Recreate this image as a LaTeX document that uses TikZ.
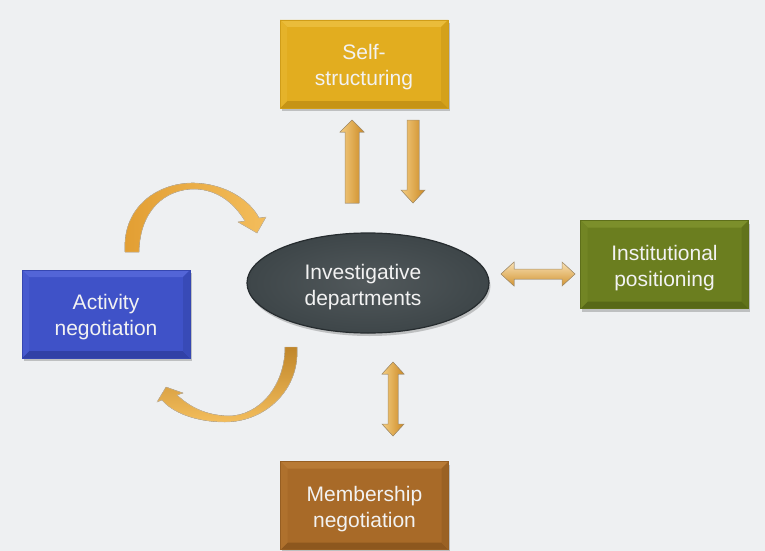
\documentclass[tikz,border=0pt]{standalone}
\usepackage{fontspec}
\setmainfont{Liberation Sans}
\usetikzlibrary{shadows,calc,shapes.geometric}
\definecolor{bg}{HTML}{EEF0F2}
\definecolor{goldM}{HTML}{E2AD1F}\definecolor{goldL}{HTML}{F0C64C}\definecolor{goldD}{HTML}{B4840E}
\definecolor{blueM}{HTML}{3F52C8}\definecolor{blueL}{HTML}{6072E2}\definecolor{blueD}{HTML}{28368F}
\definecolor{greenM}{HTML}{6B7E1F}\definecolor{greenL}{HTML}{879B33}\definecolor{greenD}{HTML}{4A5912}
\definecolor{brownM}{HTML}{A86A28}\definecolor{brownL}{HTML}{C3853D}\definecolor{brownD}{HTML}{7A4B18}
\definecolor{ellM}{HTML}{3E4649}\definecolor{ellD}{HTML}{262C2F}
\definecolor{txt}{HTML}{F2F2F2}
\definecolor{arrL}{HTML}{F4CD82}\definecolor{arrD}{HTML}{CC8A24}\definecolor{arrE}{HTML}{A8916C}
\definecolor{curA}{HTML}{E29E32}\definecolor{curB}{HTML}{F3BD5C}
\tikzset{
  box/.style n args={3}{rectangle, minimum width=168pt, minimum height=88pt, inner sep=0pt,
    fill=#1, draw=#1!60!#3, line width=0.6pt,
    drop shadow={shadow xshift=1.5pt, shadow yshift=-3pt, opacity=0.2, fill=black},
    path picture={
      \fill[#1!40!#2] (path picture bounding box.north west) -- (path picture bounding box.north east)
        -- ([xshift=-7pt,yshift=-7pt]path picture bounding box.north east)
        -- ([xshift=7pt,yshift=-7pt]path picture bounding box.north west) -- cycle;
      \fill[#1!40!#3] (path picture bounding box.south west) -- (path picture bounding box.south east)
        -- ([xshift=-7pt,yshift=7pt]path picture bounding box.south east)
        -- ([xshift=7pt,yshift=7pt]path picture bounding box.south west) -- cycle;
      \fill[#1!75!#2] (path picture bounding box.north west) -- (path picture bounding box.south west)
        -- ([xshift=7pt,yshift=7pt]path picture bounding box.south west)
        -- ([xshift=7pt,yshift=-7pt]path picture bounding box.north west) -- cycle;
      \fill[#1!70!#3] (path picture bounding box.north east) -- (path picture bounding box.south east)
        -- ([xshift=-7pt,yshift=7pt]path picture bounding box.south east)
        -- ([xshift=-7pt,yshift=-7pt]path picture bounding box.north east) -- cycle;
    }},
  lbl/.style={text=txt, align=center, inner sep=0pt, font=\fontsize{21}{26}\selectfont},
  hub/.style={ellipse, minimum width=242pt, minimum height=100pt, inner sep=0pt,
    inner color=ellM!90!white, outer color=ellM, draw=ellD, line width=1.2pt,
    drop shadow={shadow xshift=1.5pt, shadow yshift=-3pt, opacity=0.2, fill=black}},
  varrow/.style={left color=arrL, right color=arrD, draw=arrE, line width=0.5pt, line join=miter},
  harrow/.style={top color=arrL!60!white, bottom color=arrD!85!arrL, draw=arrE, line width=0.5pt},
  curvearrow/.style={left color=curA, right color=curB, draw=arrE!60, line width=0.4pt},
  curvearrowb/.style={top color=curA!85!black, bottom color=curB, draw=arrE!60, line width=0.4pt},
}
\begin{document}
\begin{tikzpicture}[x=1pt,y=-1pt]
\fill[bg] (0,0) rectangle (765,551);
\useasboundingbox (0,0) rectangle (765,551);

\node[box={goldM}{goldL}{goldD}] (self) at (364,64) {};
\node[box={blueM}{blueL}{blueD}] (act) at (106,314) {};
\node[box={greenM}{greenL}{greenD}] (inst) at (664.5,264.5) {};
\node[box={brownM}{brownL}{brownD}] (memb) at (364.5,505.5) {};
\node[hub] (dept) at (368,283) {};

\node[lbl] (selfT) at ([yshift=-3.5pt]self.center) {Self-\\structuring};
\node[lbl] (actT) at ([yshift=-3.5pt]act.center) {Activity\\negotiation};
\node[lbl] (instT) at ([yshift=-3.5pt]inst.center) {Institutional\\positioning};
\node[lbl] (membT) at ([yshift=-3.5pt]memb.center) {Membership\\negotiation};
\node[lbl] (deptT) at ([xshift=-5pt,yshift=-4pt]dept.center) {Investigative\\departments};

% up arrow (dept -> self)
\coordinate (upTail) at (352,203);
\coordinate (upTip) at (352,120);
\filldraw[varrow] ($(upTail)+(-7,0)$) -- ++(0,-71) -- ++(-5,0) -- (upTip) -- ++(12,12) -- ++(-5,0) -- ++(0,71) -- cycle;

% down arrow (self -> dept)
\coordinate (dnTail) at (413,120);
\coordinate (dnTip) at (413,203);
\filldraw[varrow] ($(dnTail)+(-6,0)$) -- ++(0,70) -- ++(-6,0) -- (dnTip) -- ++(12,-13) -- ++(-6,0) -- ++(0,-70) -- cycle;

% horizontal double arrow (dept <-> inst)
\coordinate (hL) at (501,274);
\coordinate (hR) at (575,274);
\filldraw[harrow] (hL) -- ++(13,-12) -- ++(0,7) -- ++(48,0) -- ++(0,-7) -- (hR) -- ++(-13,12) -- ++(0,-7) -- ++(-48,0) -- ++(0,7) -- cycle;

% vertical double arrow (dept <-> memb)
\coordinate (vT) at (393,362);
\coordinate (vB) at (393,436);
\filldraw[varrow] (vT) -- ++(11,12) -- ++(-6,0) -- ++(0,50) -- ++(6,0) -- (vB) -- ++(-11,-12) -- ++(6,0) -- ++(0,-50) -- ++(-6,0) -- cycle;

% curved arrow top (act -> dept)
\coordinate (c1Tip) at (257,233);
\filldraw[curvearrow] (125,252) .. controls (122,205) and (160,182) .. (195,183)
  .. controls (225,184) and (250,200) .. (259,218) -- (266,217) -- (c1Tip) -- (238,222) -- (245,221)
  .. controls (235,205) and (220,190) .. (195,189)
  .. controls (165,189) and (140,210) .. (139,252) -- cycle;

% curved arrow bottom (dept -> act)
\coordinate (c2Tip) at (166,387);
\filldraw[curvearrowb] (297,347) .. controls (300,390) and (265,422) .. (225,422)
  .. controls (195,422) and (172,412) .. (162,400) -- (157,402) -- (c2Tip) -- (183,393) -- (177,395)
  .. controls (190,407) and (205,415) .. (228,416)
  .. controls (260,416) and (285,385) .. (285,347) -- cycle;
\end{tikzpicture}
\end{document}
